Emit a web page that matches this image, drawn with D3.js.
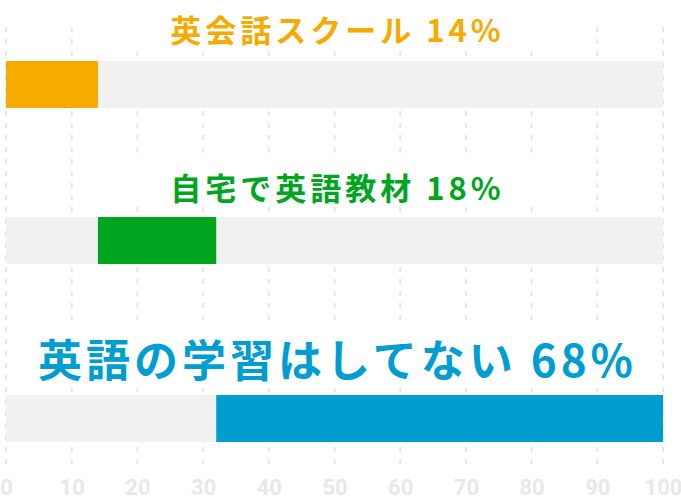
<!DOCTYPE html>
<html>
<head>
<meta charset="utf-8">
<script src="https://cdn.jsdelivr.net/npm/d3@7"></script>
<style>
  html, body { margin: 0; padding: 0; background: #fff; }
  svg { display: block; }
</style>
</head>
<body>
<svg width="681" height="500"></svg>
<script>
// data
const categories = ["英会話スクール", "自宅で英語教材", "英語の学習はしてない"];
const shares = [14, 18, 68];
const colors = ["#f5ab00", "#00a51f", "#009dd1"];
const tickValues = [0, 10, 20, 30, 40, 50, 60, 70, 80, 90, 100];

const svg = d3.select("svg");
const W = 681, H = 500;

const x = d3.scaleLinear().domain([0, 100]).range([6, 663]);

// each row: title center, bar top, title size, box padding
const rows = [
  { ty: 28, by: 61, fs: 31, pad: 42 },
  { ty: 186, by: 217, fs: 31, pad: 42 },
  { ty: 358, by: 395, fs: 44, pad: 22 }
];
const barH = 47;

// running start of each bar
const starts = shares.map((d, i) => d3.sum(shares.slice(0, i)));

// dashed gridlines
svg.append("g")
  .selectAll("line")
  .data(tickValues)
  .join("line")
  .attr("x1", d => x(d)).attr("x2", d => x(d))
  .attr("y1", 27).attr("y2", 466)
  .attr("stroke", "#e6e6e6")
  .attr("stroke-width", 2)
  .attr("stroke-dasharray", "5,7");

// axis labels
const axis = svg.append("g")
  .attr("transform", `translate(0,${H - 5})`)
  .call(d3.axisBottom(x).tickValues(tickValues).tickSize(0).tickPadding(0));
axis.select(".domain").remove();
axis.selectAll("text")
  .attr("dy", 0)
  .attr("fill", "#e8e8e8")
  .attr("font-family", "'Liberation Sans Narrow', 'Roboto', sans-serif")
  .attr("font-weight", "bold")
  .attr("font-size", 22);

const row = svg.selectAll("g.row")
  .data(categories)
  .join("g")
  .attr("class", "row");

// background track
row.append("rect")
  .attr("x", x(0))
  .attr("y", (d, i) => rows[i].by)
  .attr("width", x(100) - x(0))
  .attr("height", barH)
  .attr("fill", "#f1f1f1");

// value bar
row.append("rect")
  .attr("x", (d, i) => x(starts[i]))
  .attr("y", (d, i) => rows[i].by)
  .attr("width", (d, i) => x(starts[i] + shares[i]) - x(starts[i]))
  .attr("height", barH)
  .attr("fill", (d, i) => colors[i]);

// titles with white box behind
row.each(function(d, i) {
  const g = d3.select(this);
  const box = g.append("rect").attr("fill", "#fff");
  const t = g.append("text")
    .attr("x", x(50) + 3)
    .attr("y", rows[i].ty)
    .attr("text-anchor", "middle")
    .attr("dominant-baseline", "central")
    .attr("font-family", "'Noto Sans CJK JP', sans-serif")
    .attr("font-weight", "bold")
    .attr("font-size", rows[i].fs)
    .attr("letter-spacing", 4)
    .attr("fill", colors[i])
    .text(`${d} ${shares[i]}%`);
  const bb = t.node().getBBox();
  box.attr("x", bb.x - rows[i].pad)
    .attr("y", bb.y - 4)
    .attr("width", bb.width + rows[i].pad * 2)
    .attr("height", bb.height + 2);
});
</script>
</body>
</html>
